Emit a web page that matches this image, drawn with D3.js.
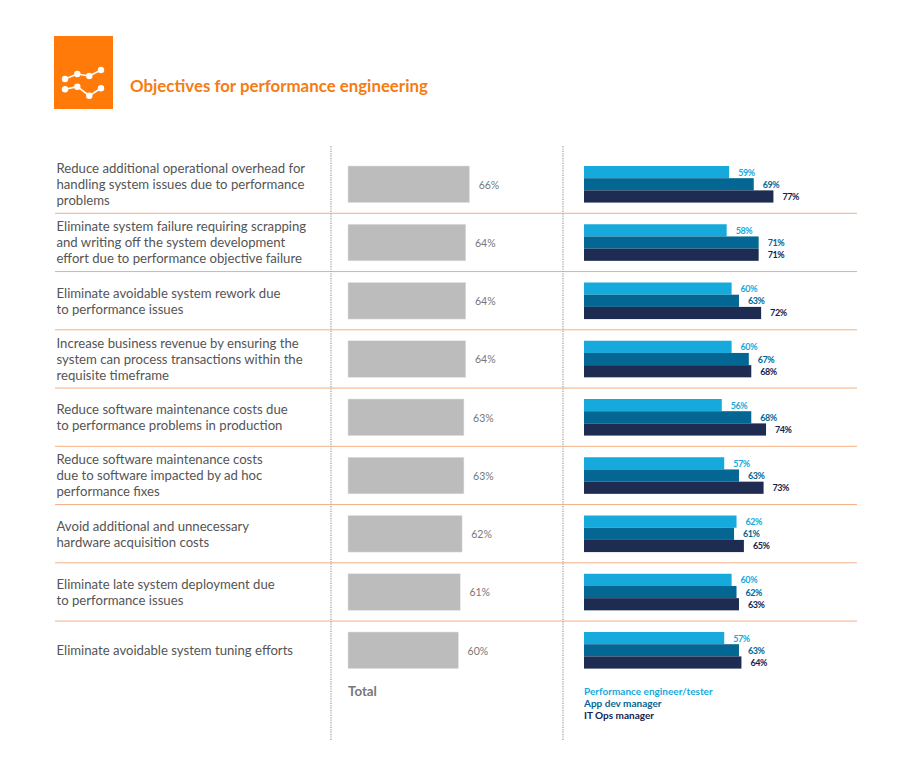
<!DOCTYPE html>
<html>
<head>
<meta charset="utf-8">
<script src="https://cdn.jsdelivr.net/npm/d3@7/dist/d3.min.js"></script>
<style>
html,body{margin:0;padding:0;background:#fff}
svg{display:block}
text{font-family:Lato,sans-serif}
</style>
</head>
<body>
<svg id="c" width="900" height="776"></svg>
<script>
const chartTitle = "Objectives for performance engineering";
const categories = [
  ["Reduce additional operational overhead for","handling system issues due to performance","problems"],
  ["Eliminate system failure requiring scrapping","and writing off the system development","effort due to performance objective failure"],
  ["Eliminate avoidable system rework due","to performance issues"],
  ["Increase business revenue by ensuring the","system can process transactions within the","requisite timeframe"],
  ["Reduce software maintenance costs due","to performance problems in production"],
  ["Reduce software maintenance costs","due to software impacted by ad hoc","performance fixes"],
  ["Avoid additional and unnecessary","hardware acquisition costs"],
  ["Eliminate late system deployment due","to performance issues"],
  ["Eliminate avoidable system tuning efforts"]
];
const totalValues = [66,64,64,64,63,63,62,61,60];
const engineerValues = [59,58,60,60,56,57,62,60,57];
const appDevValues = [69,71,63,67,68,63,61,62,63];
const itOpsValues = [77,71,72,68,74,73,65,63,64];
const seriesNames = ["Performance engineer/tester","App dev manager","IT Ops manager"];
const seriesColors = ["#15a9dc","#046693","#1f2c52"];
const labelColors = ["#15a9dc","#046693","#12234f"];
const totalLabel = "Total";
const separatorColor = "#f5ae7f";

const svg = d3.select("#c");
const seriesValues = [engineerValues, appDevValues, itOpsValues];
const rowIdx = d3.range(categories.length);

const y = d3.scaleBand().domain(rowIdx).range([166, 668.6]).paddingInner(0.372).paddingOuter(0);
const ySub = d3.scaleBand().domain(d3.range(3)).range([0, y.bandwidth()]);
const xTotal = d3.scaleLinear().domain([0, 100]).range([348, 532]);
const xRole = d3.scaleLinear().domain([0, 100]).range([584, 830]);
const rowCenter = i => y(i) + y.bandwidth() / 2;

// header icon
const icon = svg.append("g");
icon.append("rect").attr("x",54).attr("y",36).attr("width",59).attr("height",73).attr("fill","#ff7a08");
[[[65,79],[77.3,74],[89.3,76],[101,70]],[[65,89.3],[77.3,86.7],[89.3,95.7],[101,88.3]]].forEach(pts=>{
  icon.append("path").attr("d",d3.line()(pts)).attr("fill","none").attr("stroke","#fff").attr("stroke-width",1.6);
  icon.selectAll(null).data(pts).join("circle").attr("cx",d=>d[0]).attr("cy",d=>d[1]).attr("r",3.2).attr("fill","#fff");
});
svg.append("text").attr("x",130).attr("y",91.5).attr("font-size",16.85).attr("font-weight",700).attr("fill","#f57c14").text(chartTitle);

// separators
svg.selectAll("line.sep").data(rowIdx.slice(0,-1)).join("line").attr("class","sep")
  .attr("x1",55).attr("x2",857)
  .attr("y1",i=>y(i)+y.step()-10.95)
  .attr("y2",i=>y(i)+y.step()-10.95)
  .attr("stroke",separatorColor).attr("stroke-width",1);

// dotted column rules
[331,563].forEach(x=>{
  svg.append("line").attr("x1",x).attr("x2",x).attr("y1",146).attr("y2",740)
    .attr("stroke","#b5b5b5").attr("stroke-width",1.6).attr("stroke-dasharray","1.2 1.2");
});

// category labels
const lh = 16;
const cat = svg.selectAll("text.cat").data(categories).join("text").attr("class","cat")
  .attr("font-size",13.15).attr("fill","#555");
cat.each(function(lines,i){
  d3.select(this).selectAll("tspan").data(lines).join("tspan")
    .attr("x",56.5)
    .attr("y",(l,j)=>rowCenter(i)+(j-(lines.length-1)/2)*lh+4.8)
    .text(l=>l);
});

// total bars
svg.selectAll("rect.total").data(totalValues).join("rect").attr("class","total")
  .attr("x",xTotal(0)).attr("y",(d,i)=>y(i))
  .attr("width",d=>xTotal(d)-xTotal(0)).attr("height",y.bandwidth())
  .attr("fill","#bcbcbc").attr("stroke","#e2e2e2").attr("stroke-width",0.5);
svg.selectAll("text.tv").data(totalValues).join("text").attr("class","tv")
  .attr("x",d=>xTotal(d)+9.2).attr("y",(d,i)=>rowCenter(i)+4.3)
  .attr("font-size",10.5).attr("fill","#777").text(d=>d+"%");

// role bars
seriesValues.forEach((vals,s)=>{
  svg.selectAll("rect.s"+s).data(vals).join("rect").attr("class","s"+s)
    .attr("x",xRole(0)).attr("y",(d,i)=>y(i)+ySub(s))
    .attr("width",d=>xRole(d)-xRole(0)).attr("height",ySub.bandwidth())
    .attr("fill",seriesColors[s]);
  svg.selectAll("text.l"+s).data(vals).join("text").attr("class","l"+s)
    .attr("x",d=>xRole(d)+9).attr("y",(d,i)=>y(i)+ySub(s)+ySub.bandwidth()/2+3.5)
    .attr("font-size",9).attr("font-weight",700).attr("letter-spacing",-0.45)
    .attr("fill",labelColors[s]).text(d=>d+"%");
});

// footer
svg.append("text").attr("x",348).attr("y",695.5).attr("font-size",13.3).attr("font-weight",700).attr("fill","#777").text(totalLabel);
svg.selectAll("text.leg").data(seriesNames).join("text").attr("class","leg")
  .attr("x",584).attr("y",(d,i)=>694.5+i*12)
  .attr("font-size",10).attr("font-weight",700)
  .attr("fill",(d,i)=>labelColors[i]).text(d=>d);
</script>
</body>
</html>
